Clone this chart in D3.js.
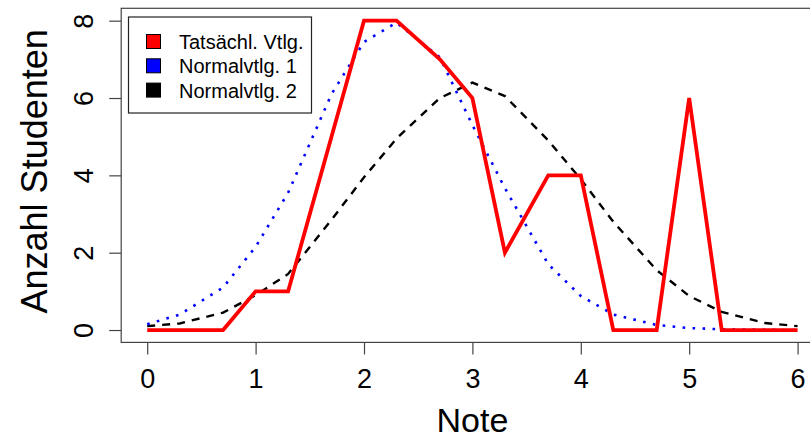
<!DOCTYPE html>
<html>
<head>
<meta charset="utf-8">
<script src="https://cdn.jsdelivr.net/npm/d3@7"></script>
<style>
  html, body { margin: 0; padding: 0; background: #fff; }
  svg { display: block; font-family: "Liberation Sans", Arial, sans-serif; }
</style>
</head>
<body>
<svg id="chart" width="810" height="440"></svg>
<script>
// ---- data ----
const notes = [0, 0.3, 0.7, 1, 1.3, 1.7, 2, 2.3, 2.7, 3, 3.3, 3.7, 4, 4.3, 4.7, 5, 5.3, 5.7, 6];
const actual = [0, 0, 0, 1, 1, 5, 8, 8, 7, 6, 2, 4, 4, 0, 0, 6, 0, 0, 0];
const normal1 = [0.15, 0.4, 1.1, 2.15, 3.55, 6.1, 7.45, 7.95, 7.05, 5.3, 3.67, 1.7, 0.88, 0.4, 0.13, 0.05, 0.02, 0.005, 0];
const normal2 = [0.1, 0.17, 0.45, 0.9, 1.45, 2.85, 3.95, 4.95, 6.0, 6.4, 6.05, 4.9, 3.9, 2.8, 1.55, 0.88, 0.47, 0.18, 0.1];
const xTicks = [0, 1, 2, 3, 4, 5, 6];
const yTicks = [0, 2, 4, 6, 8];
const legendLabels = ["Tatsächl. Vtlg.", "Normalvtlg. 1", "Normalvtlg. 2"];
const xTitle = "Note";
const yTitle = "Anzahl Studenten";

// ---- layout ----
const svg = d3.select("#chart");
const x = d3.scaleLinear().domain([-0.24, 6.24]).range([121.2, 823.6]);
const y = d3.scaleLinear().domain([-0.32, 8.32]).range([342.4, 8.3]);

const series = [
  { values: actual, color: "#FF0000", width: 3.8, dash: null },
  { values: normal1, color: "#0000FF", width: 2.6, dash: "2.6,7.4" },
  { values: normal2, color: "#000000", width: 2.4, dash: "8,7" }
];

const line = d3.line().x((d, i) => x(notes[i])).y(d => y(d));
const order = [2, 1, 0];
order.forEach(k => {
  const s = series[k];
  svg.append("path")
    .datum(s.values)
    .attr("d", line)
    .attr("fill", "none")
    .attr("stroke", s.color)
    .attr("stroke-width", s.width)
    .attr("stroke-dasharray", s.dash)
    .attr("stroke-linejoin", "miter")
    .attr("stroke-linecap", "butt");
});

// box
svg.append("rect")
  .attr("x", x.range()[0]).attr("y", y.range()[1])
  .attr("width", x.range()[1] - x.range()[0])
  .attr("height", y.range()[0] - y.range()[1])
  .attr("fill", "none").attr("stroke", "#444").attr("stroke-width", 1.2);

// x axis
const xAxis = svg.append("g")
  .attr("transform", `translate(0,${y.range()[0]})`)
  .call(d3.axisBottom(x).tickValues(xTicks).tickSize(12).tickSizeOuter(0).tickPadding(14).tickFormat(d3.format("d")));
xAxis.select(".domain").remove();
xAxis.selectAll(".tick line").attr("stroke", "#444").attr("stroke-width", 1.2);
xAxis.selectAll(".tick text")
  .attr("font-family", "Liberation Sans, Arial, sans-serif")
  .attr("font-size", 27).attr("fill", "#000");

// y axis
const yAxis = svg.append("g")
  .attr("transform", `translate(${x.range()[0]},0)`)
  .call(d3.axisLeft(y).tickValues(yTicks).tickSize(12).tickSizeOuter(0).tickFormat(d3.format("d")));
yAxis.select(".domain").remove();
yAxis.selectAll(".tick line").attr("stroke", "#444").attr("stroke-width", 1.2);
yAxis.selectAll(".tick text")
  .attr("font-family", "Liberation Sans, Arial, sans-serif")
  .attr("font-size", 27).attr("fill", "#000")
  .attr("x", null).attr("dy", null)
  .attr("text-anchor", "middle")
  .attr("transform", "translate(-28.5,0) rotate(-90)");

// axis titles
svg.append("text")
  .attr("x", (x.range()[0] + x.range()[1]) / 2).attr("y", 432)
  .attr("text-anchor", "middle").attr("font-size", 34).attr("fill", "#000")
  .text(xTitle);
svg.append("text")
  .attr("transform", `translate(46.5,${(y.range()[0] + y.range()[1]) / 2 - 4}) rotate(-90)`)
  .attr("text-anchor", "middle").attr("font-size", 36).attr("fill", "#000")
  .text(yTitle);

// legend
const lg = svg.append("g");
lg.append("rect")
  .attr("x", 128.5).attr("y", 17).attr("width", 183).attr("height", 96)
  .attr("fill", "#fff").attr("stroke", "#222").attr("stroke-width", 1.2);
legendLabels.forEach((lab, i) => {
  const cy = 41.5 + i * 24.3;
  lg.append("rect")
    .attr("x", 146.5).attr("y", cy - 7).attr("width", 14).attr("height", 14)
    .attr("fill", series[i].color).attr("stroke", "#000").attr("stroke-width", 1);
  lg.append("text")
    .attr("x", 179).attr("y", cy + 7.5)
    .attr("font-size", 20).attr("fill", "#000")
    .text(lab);
});
</script>
</body>
</html>
